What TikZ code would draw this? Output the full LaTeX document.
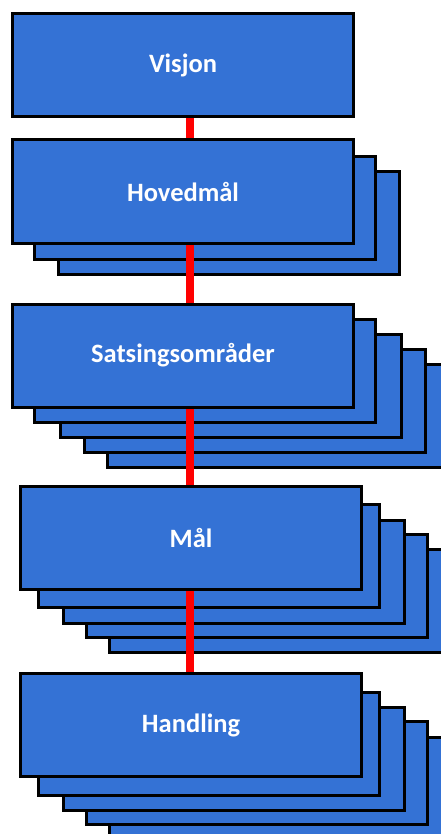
\documentclass[tikz,border=0pt]{standalone}
\usepackage{fontspec}
\setmainfont{Carlito}
\definecolor{boxblue}{RGB}{52,114,213}
\pgfdeclarelayer{back}
\pgfdeclarelayer{mid}
\pgfsetlayers{back,mid,main}
\tikzset{
  card/.style={draw=black, fill=boxblue, line width=3pt, inner sep=0pt,
    minimum width=341pt, minimum height=103pt,
    text=white, font=\bfseries\fontsize{26.5}{30}\selectfont},
  link/.style={draw=red, line width=7.5pt}
}
\begin{document}
\begin{tikzpicture}[x=1pt,y=-1pt]
\useasboundingbox (0,0) rectangle (441,834);
\clip (0,0) rectangle (441,834);
\coordinate (axis) at (190,0);
% shadow stacks
\begin{pgfonlayer}{back}
  \node[card] (h3) at (229,223) {};
  \node[card] (h2) at (205,208) {};
  \node[card] (s5) at (278,416) {};
  \node[card] (s4) at (254.5,400.5) {};
  \node[card] (s3) at (231,385.5) {};
  \node[card] (s2) at (205,370.5) {};
  \node[card] (m5) at (280,601) {};
  \node[card] (m4) at (257,586) {};
  \node[card] (m3) at (233.5,572) {};
  \node[card] (m2) at (209,556) {};
  \node[card] (a5) at (280,789) {};
  \node[card] (a4) at (257,773) {};
  \node[card] (a3) at (233.5,759) {};
  \node[card] (a2) at (209,744) {};
\end{pgfonlayer}
% front cards
\node[card] (visjon) at (183,65) {Visjon};
\node[card] (hoved) at (183,191.5) {Hovedmål};
\node[card] (sats) at (183,355.5) {Satsingsområder};
\node[card] (maal) at (191,538) {Mål};
\node[card] (hand) at (191,725) {Handling};
% connectors
\begin{pgfonlayer}{mid}
  \draw[link] (visjon.south -| axis) -- (hoved.north -| axis);
  \draw[link] (hoved.south -| axis) -- (sats.north -| axis);
  \draw[link] (sats.south -| axis) -- (maal.north -| axis);
  \draw[link] (maal.south -| axis) -- (hand.north -| axis);
\end{pgfonlayer}
\end{tikzpicture}
\end{document}
